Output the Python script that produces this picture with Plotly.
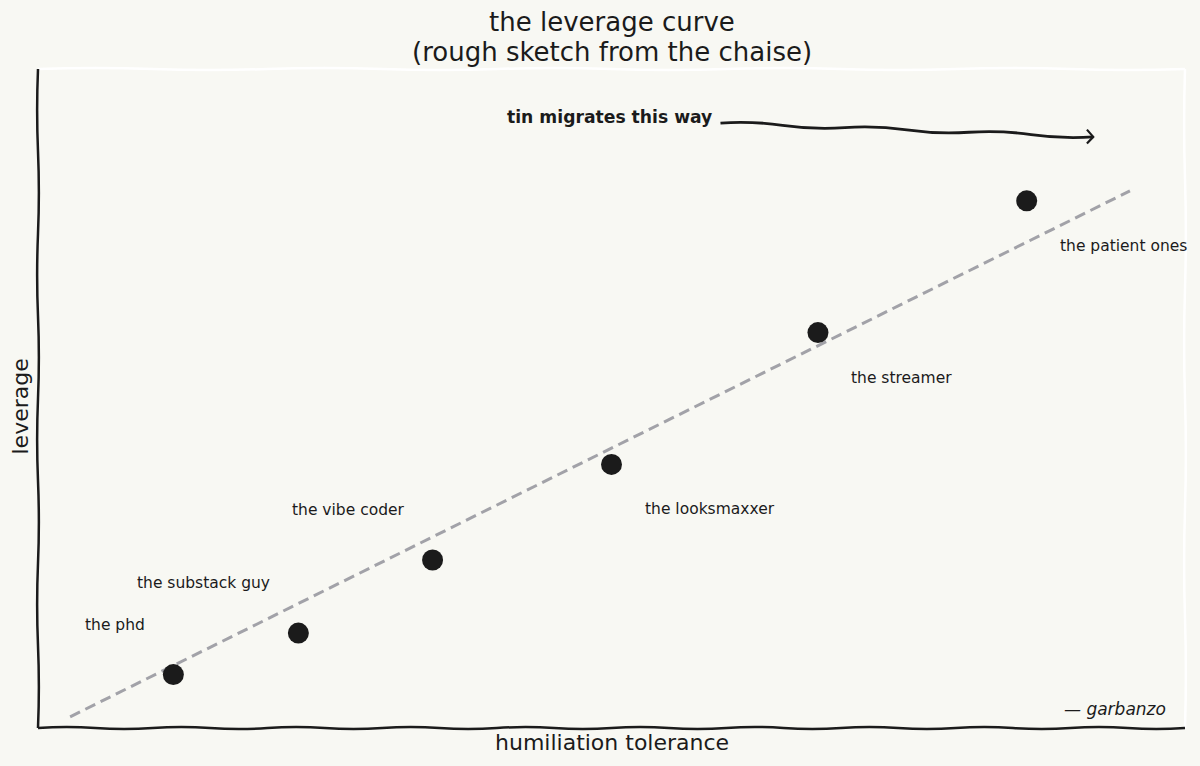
import plotly.graph_objects as go

# ---- data ----
names = ["the phd", "the substack guy", "the vibe coder",
         "the looksmaxxer", "the streamer", "the patient ones"]
humiliation = [1.18, 2.27, 3.44, 5.0, 6.8, 8.62]
leverage = [0.81, 1.44, 2.55, 4.0, 6.0, 8.0]
trend_x = [0.28, 9.52]
trend_y = [0.17, 8.15]
arrow_text = "tin migrates this way"
arrow_tail = (5.95, 9.18)
arrow_head = (9.2, 8.97)
title_lines = ["the leverage curve", "(rough sketch from the chaise)"]
xlabel = "humiliation tolerance"
ylabel = "leverage"
signature = "— garbanzo"

BG = "#f8f8f3"
INK = "#1b1b1b"
FONT = "DejaVu Sans"

fig = go.Figure()

fig.add_trace(go.Scatter(
    x=trend_x, y=trend_y, mode="lines",
    line=dict(color="#a2a2a8", width=3, dash="11px,6px"),
    hoverinfo="skip", showlegend=False))

fig.add_trace(go.Scatter(
    x=humiliation, y=leverage, mode="markers",
    marker=dict(size=21, color=INK, line=dict(width=0)),
    text=names, showlegend=False))

annotations = []
for i, (nm, xv, yv) in enumerate(zip(names, humiliation, leverage)):
    upper = i < 3
    annotations.append(dict(
        x=xv, y=yv, xref="x", yref="y", text=nm, showarrow=False,
        xanchor="right" if upper else "left", yanchor="middle",
        xshift=-26 if upper else 31, yshift=50 if upper else -45,
        font=dict(family=FONT, size=15.5, color=INK)))

# arrow text
annotations.append(dict(
    x=arrow_tail[0], y=arrow_tail[1], xref="x", yref="y", text="<b>" + arrow_text + "</b>",
    showarrow=False, xanchor="right", yanchor="middle", xshift=-6, yshift=6,
    font=dict(family=FONT, size=17.2, color=INK)))

# title
annotations.append(dict(
    x=0.5, y=1, xref="paper", yref="paper", text=title_lines[0], showarrow=False,
    xanchor="center", yanchor="middle", yshift=47,
    font=dict(family=FONT, size=26, color=INK)))
annotations.append(dict(
    x=0.5, y=1, xref="paper", yref="paper", text=title_lines[1], showarrow=False,
    xanchor="center", yanchor="middle", yshift=17,
    font=dict(family=FONT, size=26, color=INK)))

# axis labels
annotations.append(dict(
    x=0.5, y=0, xref="paper", yref="paper", text=xlabel, showarrow=False,
    xanchor="center", yanchor="middle", yshift=-14,
    font=dict(family=FONT, size=22, color=INK)))
annotations.append(dict(
    x=0, y=0.5, xref="paper", yref="paper", text=ylabel, showarrow=False,
    xanchor="center", yanchor="middle", xshift=-18, yshift=-8, textangle=-90,
    font=dict(family=FONT, size=22, color=INK)))

# signature
annotations.append(dict(
    x=0.985, y=0.029, xref="paper", yref="paper", text="<i>" + signature + "</i>",
    showarrow=False, xanchor="right", yanchor="middle",
    font=dict(family=FONT, size=17, color=INK)))

# hand-drawn spines (slight wobble)
def wavy_h(x0, x1, y, amp, n):
    step = (x1 - x0) / n
    d = f"M {x0},{y}"
    for k in range(n):
        xa = x0 + step * (k + 0.5)
        xb = x0 + step * (k + 1)
        sgn = 1 if k % 2 == 0 else -1
        d += f" Q {xa},{y + sgn * amp} {xb},{y}"
    return d

def wavy_v(y0, y1, x, amp, n):
    step = (y1 - y0) / n
    d = f"M {x},{y0}"
    for k in range(n):
        ya = y0 + step * (k + 0.5)
        yb = y0 + step * (k + 1)
        sgn = 1 if k % 2 == 0 else -1
        d += f" Q {x + sgn * amp},{ya} {x},{yb}"
    return d

shapes = [
    dict(type="path", xref="paper", yref="paper", path=wavy_h(0, 1, 1, 0.003, 10),
         line=dict(color="white", width=2.5), layer="below"),
    dict(type="path", xref="paper", yref="paper", path=wavy_v(0, 1, 1, 0.0015, 6),
         line=dict(color="white", width=2.5), layer="below"),
    dict(type="path", xref="paper", yref="paper", path=wavy_h(0, 1, 0, 0.003, 20),
         line=dict(color=INK, width=2.5)),
    dict(type="path", xref="paper", yref="paper", path=wavy_v(0, 1, 0, 0.0015, 8),
         line=dict(color=INK, width=2.5)),
]

# wavy arrow body in data coords
ax0, ay0 = arrow_tail
ax1, ay1 = arrow_head
n = 6
d = f"M {ax0},{ay0}"
for k in range(n):
    t_a = (k + 0.5) / n
    t_b = (k + 1) / n
    sgn = 1 if k % 2 == 0 else -1
    xa = ax0 + (ax1 - ax0) * t_a
    ya = ay0 + (ay1 - ay0) * t_a + sgn * 0.05
    xb = ax0 + (ax1 - ax0) * t_b
    yb = ay0 + (ay1 - ay0) * t_b
    d += f" Q {xa},{ya} {xb},{yb}"
shapes.append(dict(type="path", xref="x", yref="y", path=d,
                   line=dict(color=INK, width=2.8)))
# arrowhead chevron
shapes.append(dict(type="path", xref="x", yref="y",
                   path=f"M {ax1-0.055},{ay1+0.11} L {ax1},{ay1} L {ax1-0.055},{ay1-0.1}",
                   line=dict(color=INK, width=2.2)))

fig.update_layout(
    width=1200, height=766,
    margin=dict(l=38, r=15, t=69, b=38),
    paper_bgcolor=BG, plot_bgcolor=BG,
    xaxis=dict(range=[0, 10], showgrid=False, zeroline=False, showticklabels=False,
               ticks="", showline=False),
    yaxis=dict(range=[0, 10], showgrid=False, zeroline=False, showticklabels=False,
               ticks="", showline=False),
    annotations=annotations, shapes=shapes,
    font=dict(family=FONT, color=INK),
    showlegend=False,
)

fig.write_html("out.html")
